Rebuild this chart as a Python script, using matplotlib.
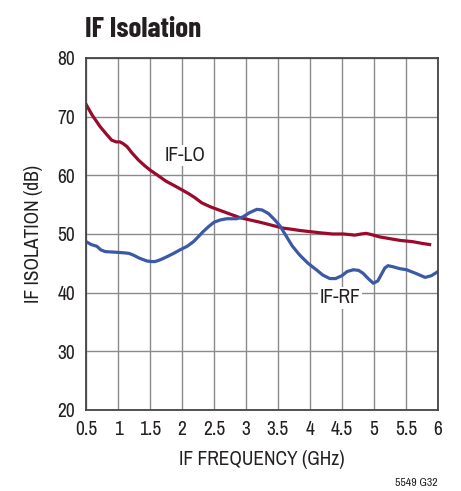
import matplotlib
matplotlib.use("Agg")
import matplotlib.pyplot as plt

plt.rcParams['font.family'] = ['Archivo Narrow', 'Liberation Sans', 'DejaVu Sans']

# IF-LO isolation (dB) vs IF frequency (GHz)
lo_freq = [0.5, 0.6, 0.72, 0.82, 0.9, 0.97, 1.03, 1.08, 1.14, 1.22, 1.32, 1.41, 1.5, 1.62, 1.75, 1.87,
           1.97, 2.1, 2.2, 2.31, 2.45, 2.6, 2.75, 2.9, 3.06, 3.22, 3.4, 3.58, 3.72, 3.84, 4.0, 4.16,
           4.35, 4.52, 4.62, 4.7, 4.8, 4.88, 4.96, 5.09, 5.25, 5.41, 5.6, 5.75, 5.87]
lo_db = [72.1, 70.2, 68.3, 67.0, 66.0, 65.7, 65.7, 65.4, 64.9, 63.8, 62.6, 61.7, 60.9, 60.0, 59.0, 58.3,
         57.7, 56.9, 56.2, 55.3, 54.6, 54.0, 53.4, 52.8, 52.4, 52.0, 51.5, 51.0, 50.8, 50.6, 50.4, 50.2,
         50.0, 50.0, 49.9, 49.8, 50.0, 50.1, 49.9, 49.5, 49.2, 48.9, 48.7, 48.4, 48.2]

# IF-RF isolation (dB) vs IF frequency (GHz)
rf_freq = [0.5, 0.58, 0.67, 0.73, 0.8, 0.95, 1.08, 1.17, 1.24, 1.33, 1.45, 1.52, 1.58, 1.66, 1.76, 1.87,
           1.97, 2.08, 2.18, 2.27, 2.33, 2.42, 2.5, 2.6, 2.7, 2.85, 2.95, 3.05, 3.17, 3.25, 3.35, 3.45,
           3.53, 3.62, 3.72, 3.84, 3.97, 4.1, 4.2, 4.31, 4.4, 4.5, 4.58, 4.68, 4.76, 4.83, 4.91, 4.99,
           5.06, 5.12, 5.17, 5.22, 5.3, 5.4, 5.51, 5.65, 5.8, 5.9, 6.0]
rf_db = [48.7, 48.2, 47.9, 47.3, 47.0, 46.9, 46.8, 46.7, 46.4, 45.9, 45.4, 45.3, 45.3, 45.6, 46.1, 46.7,
         47.3, 47.9, 48.7, 49.7, 50.4, 51.3, 52.0, 52.4, 52.6, 52.6, 52.9, 53.6, 54.2, 54.1, 53.5, 52.4,
         51.4, 49.8, 48.0, 46.4, 45.0, 43.9, 43.0, 42.4, 42.4, 42.9, 43.6, 43.9, 43.8, 43.3, 42.4, 41.6,
         42.0, 43.2, 44.2, 44.6, 44.4, 44.1, 43.9, 43.3, 42.6, 42.9, 43.6]

xticks = [0.5, 1, 1.5, 2, 2.5, 3, 3.5, 4, 4.5, 5, 5.5, 6]
xticklabels = ['0.5', '1', '1.5', '2', '2.5', '3', '3.5', '4', '4.5', '5', '5.5', '6']
yticks = [20, 30, 40, 50, 60, 70, 80]

fig = plt.figure(figsize=(4.61, 4.91), dpi=100)
ax = fig.add_axes([0.1866, 0.165, 0.7634, 0.7169])

ax.plot(lo_freq, lo_db, color='#990a2c', linewidth=2.3, solid_joinstyle='round')
ax.plot(rf_freq, rf_db, color='#3c59a8', linewidth=2.3, solid_joinstyle='round')

ax.set_xlim(0.5, 6)
ax.set_ylim(20, 80)
ax.set_xticks(xticks)
ax.set_xticklabels(xticklabels)
ax.set_yticks(yticks)
ax.grid(True, color='#8a8a8a', linewidth=1.0)
ax.set_axisbelow(True)
ax.tick_params(length=0, labelsize=14, colors='#231f20')
ax.tick_params(axis='x', pad=7)
ax.tick_params(axis='y', pad=8)
for s in ax.spines.values():
    s.set_color('#444444')
    s.set_linewidth(1.3)

ax.set_xlabel('IF FREQUENCY (GHz)', fontsize=14, color='#231f20', labelpad=8)
ax.set_ylabel('IF ISOLATION (dB)', fontsize=14, color='#231f20', labelpad=10)

ax.text(2.05, 63.4, 'IF-LO', fontsize=14, color='#231f20', ha='center', va='center',
        bbox=dict(facecolor='white', edgecolor='none', pad=1))
ax.text(4.47, 39.1, 'IF-RF', fontsize=14, color='#231f20', ha='center', va='center',
        bbox=dict(facecolor='white', edgecolor='none', pad=1))

fig.text(0.184, 0.94, 'IF Isolation', fontsize=21, fontweight='bold', color='#231f20',
         ha='left', va='center', family=['Barlow Condensed', 'Liberation Sans', 'DejaVu Sans'])
fig.text(0.95, 0.016, '5549 G32', fontsize=8.5, color='#231f20', ha='right', va='center')

fig.savefig('out.png', dpi=100)
